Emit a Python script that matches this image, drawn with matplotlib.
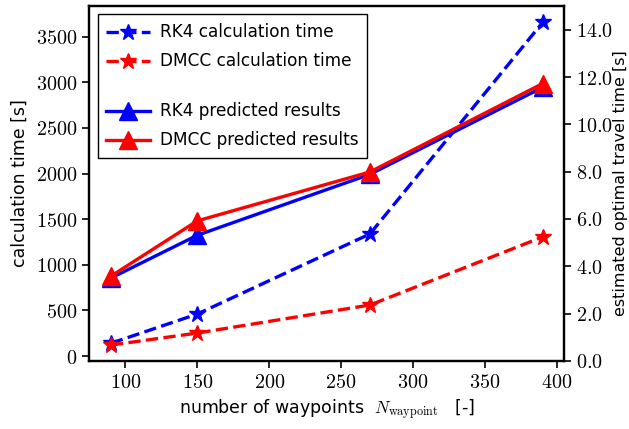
import matplotlib
matplotlib.use("Agg")
import matplotlib.pyplot as plt
from matplotlib.lines import Line2D
from matplotlib.ticker import FuncFormatter

plt.rcParams['mathtext.fontset'] = 'cm'
plt.rcParams['font.family'] = 'DejaVu Sans'

# number of waypoints
waypoints = [90, 150, 270, 390]

# calculation time [s] (left axis)
rk4_calc = [140, 460, 1338, 3655]
dmcc_calc = [120, 252, 559, 1305]

# estimated optimal travel time [s] (right axis)
rk4_pred = [3.50, 5.31, 7.89, 11.57]
dmcc_pred = [3.58, 5.92, 7.99, 11.73]

x_ticks = [100, 150, 200, 250, 300, 350, 400]
left_ticks = [0, 500, 1000, 1500, 2000, 2500, 3000, 3500]
right_ticks = [0, 2, 4, 6, 8, 10, 12, 14]

fig = plt.figure(figsize=(6.29, 4.29), dpi=100)
ax1 = fig.add_axes([0.142, 0.159, 0.755, 0.828])
ax2 = ax1.twinx()

lw = 2.4
l1, = ax1.plot(waypoints, rk4_calc, '--', color='blue', lw=lw, marker='*', markersize=12,
               label='RK4 calculation time')
l2, = ax1.plot(waypoints, dmcc_calc, '--', color='red', lw=lw, marker='*', markersize=12,
               label='DMCC calculation time')
l3, = ax2.plot(waypoints, rk4_pred, '-', color='blue', lw=lw, marker='^', markersize=12.5,
               label='RK4 predicted results')
l4, = ax2.plot(waypoints, dmcc_pred, '-', color='red', lw=lw, marker='^', markersize=12.5,
               label='DMCC predicted results')

ax1.set_xticks(x_ticks)
ax1.set_yticks(left_ticks)
ax2.set_yticks(right_ticks)
ax2.set_ylim(0, 15.03)
ax1.set_ylim(-52, 3840)

ax1.xaxis.set_major_formatter(FuncFormatter(lambda v, p: r'$%d$' % v))
ax1.yaxis.set_major_formatter(FuncFormatter(lambda v, p: r'$%d$' % v))
ax2.yaxis.set_major_formatter(FuncFormatter(lambda v, p: r'$%.1f$' % v))

for ax in (ax1, ax2):
    ax.tick_params(labelsize=14.5, length=5, width=1.2, direction='out')
    for s in ax.spines.values():
        s.set_linewidth(1.6)

ax1.set_xlabel(r'number of waypoints  $N_{\mathrm{waypoint}}$   [-]', fontsize=12.5)
ax1.set_ylabel('calculation time [s]', fontsize=12.5, labelpad=5)
ax2.set_ylabel('estimated optimal travel time [s]', fontsize=11.5, labelpad=0)

blank = Line2D([], [], linestyle='none')
leg = ax2.legend([l1, l2, blank, l3, l4],
                 [l1.get_label(), l2.get_label(), '', l3.get_label(), l4.get_label()],
                 loc='upper left', fontsize=12.2, fancybox=False, framealpha=1,
                 edgecolor='black', handlelength=2.6, handleheight=0.3,
                 handletextpad=0.55, labelspacing=0.65, borderpad=0.5)
leg.get_frame().set_linewidth(1.0)
leg.get_texts()[2].set_fontsize(2)

fig.savefig('out.png', dpi=100)
